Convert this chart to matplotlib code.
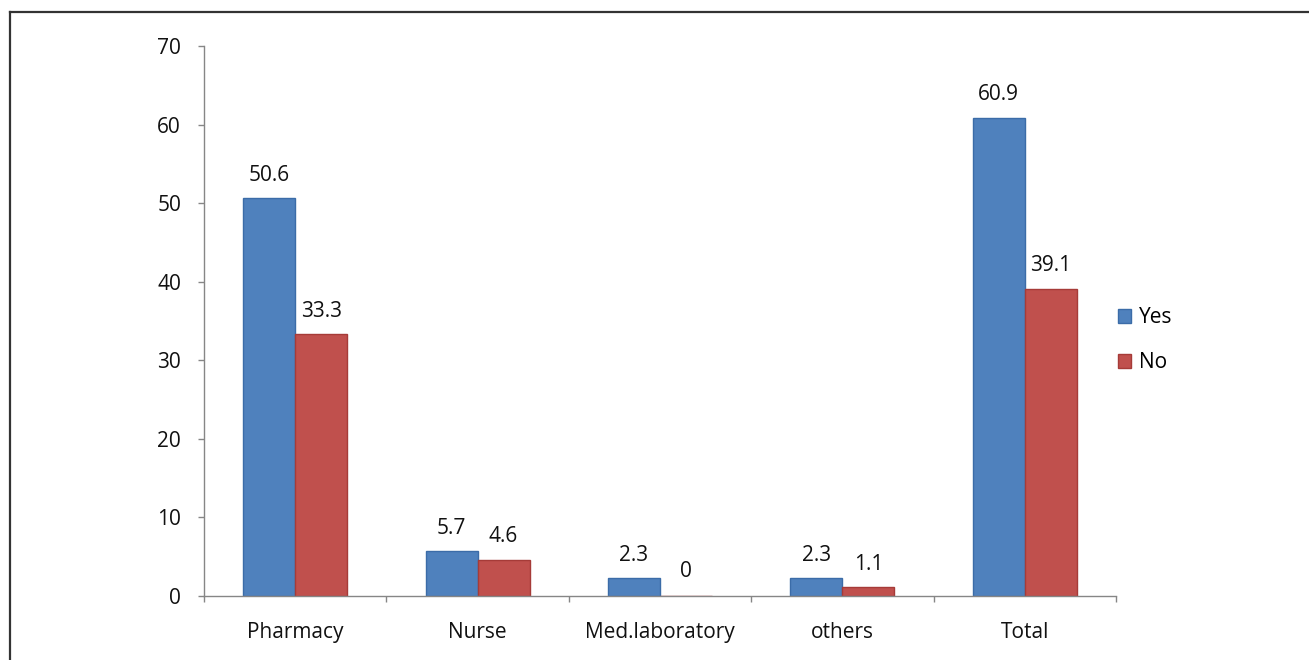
import matplotlib
matplotlib.use("Agg")
import matplotlib.pyplot as plt
import numpy as np
from matplotlib.lines import Line2D

categories = ["Pharmacy", "Nurse", "Med.laboratory", "others", "Total"]
yes_vals = [50.6, 5.7, 2.3, 2.3, 60.9]
no_vals = [33.3, 4.6, 0, 1.1, 39.1]
yes_labels = ["50.6", "5.7", "2.3", "2.3", "60.9"]
no_labels = ["33.3", "4.6", "0", "1.1", "39.1"]
series_names = ["Yes", "No"]
yticks = [0, 10, 20, 30, 40, 50, 60, 70]

plt.rcParams['font.family'] = ['Open Sans', 'DejaVu Sans']

W, H = 1309, 660
FS = 15
fig = plt.figure(figsize=(W / 100, H / 100), dpi=100)
ax = fig.add_axes([204 / W, (H - 596) / H, (1116 - 204) / W, (596 - 46) / H])

x = np.arange(len(categories))
bw = 0.285
blue, red = "#4F81BD", "#C0504D"
ax.bar(x - bw / 2, yes_vals, bw, color=blue, edgecolor="#3B6CA8", linewidth=1.0, label=series_names[0])
ax.bar(x + bw / 2, no_vals, bw, color=red, edgecolor="#A63B38", linewidth=1.0, label=series_names[1])

for xi, v, t in zip(x - bw / 2, yes_vals, yes_labels):
    ax.annotate(t, (xi, v), xytext=(0, 12.5), textcoords="offset points", ha="center", va="baseline", fontsize=FS, color="#111111")
for xi, v, t in zip(x + bw / 2, no_vals, no_labels):
    off = 12.5 if v > 0 else 13.5
    ax.annotate(t, (xi, v), xytext=(0, off), textcoords="offset points", ha="center", va="baseline", fontsize=FS, color="#111111")

ax.set_xlim(-0.5, len(categories) - 0.5)
ax.set_ylim(0, 70)
ax.set_yticks(yticks)
ax.set_yticklabels([str(t) for t in yticks], fontsize=FS, color="#111111")
ax.set_xticks(x)
ax.set_xticklabels(categories, fontsize=FS, color="#111111")
ax.set_xticks(np.arange(-0.5, len(categories)), minor=True)
ax.tick_params(axis="x", which="major", length=0, pad=18.5)
ax.tick_params(axis="x", which="minor", length=4.5, width=1, color="#868686", direction="out")
ax.tick_params(axis="y", length=4.5, width=1, color="#868686", direction="out", pad=12)

for s in ["top", "right"]:
    ax.spines[s].set_visible(False)
for s in ["left", "bottom"]:
    ax.spines[s].set_color("#868686")
    ax.spines[s].set_linewidth(1.0)

handles = [plt.Rectangle((0, 0), 1, 1, facecolor=blue, edgecolor="#3B6CA8"),
           plt.Rectangle((0, 0), 1, 1, facecolor=red, edgecolor="#A63B38")]
fig.legend(handles, series_names, loc="center left", bbox_to_anchor=(1099 / W, 1 - 340 / H),
           frameon=False, fontsize=FS, handlelength=0.65, handleheight=0.65,
           handletextpad=0.35, labelspacing=1.15)

# outer frame (top and left edges visible)
fig.add_artist(Line2D([9.5 / W, 1.0], [1 - 11.5 / H, 1 - 11.5 / H], transform=fig.transFigure, color="#333333", linewidth=1.6))
fig.add_artist(Line2D([9.5 / W, 9.5 / W], [0, 1 - 11.5 / H], transform=fig.transFigure, color="#333333", linewidth=1.6))

fig.savefig("out.png", dpi=100)
